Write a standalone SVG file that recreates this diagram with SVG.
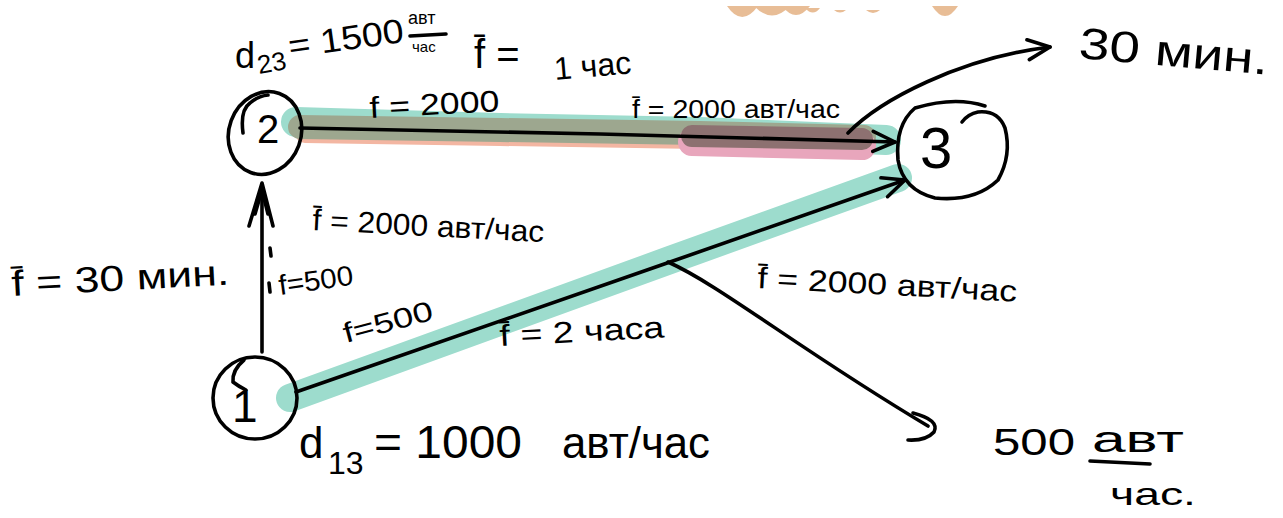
<svg xmlns="http://www.w3.org/2000/svg" width="1283" height="518" viewBox="0 0 1283 518">
<style>
.ink{fill:none;stroke:#000;stroke-width:3.6;stroke-linecap:round;stroke-linejoin:round}
.t{font-family:"Liberation Sans","Noto Sans",sans-serif;fill:#000}
.band{fill:none;stroke-linecap:round;stroke-linejoin:round}
.sc{fill:#e8bd96}
</style>
<defs>
<marker id="chev" viewBox="0 0 26 26" markerWidth="26" markerHeight="26" refX="24" refY="13" orient="auto" markerUnits="userSpaceOnUse">
<path d="M2,3 L24,13 L2,23" fill="none" stroke="#000" stroke-width="3.6" stroke-linecap="round" stroke-linejoin="round"/>
</marker>
</defs>
<rect width="1283" height="518" fill="#fff"/>

<g id="scallops">
<path class="sc" d="M727,6 Q742,28 758,6 Z"/>
<path class="sc" d="M754,6 Q772,25 790,6 Z"/>
<path class="sc" d="M782,6 Q796,24 810,6 Z"/>
<path class="sc" d="M805,8 Q813,17 820,8 Z"/>
<path class="sc" d="M834,10 Q840,15 846,10 Z"/>
<path class="sc" d="M866,10 Q873,16 880,10 Z"/>
<path class="sc" d="M932,6 Q945,26 958,6 Z"/>
</g>

<g id="highlights">
<path class="band" d="M296,122 L500,128 L700,132 L886,140" stroke="#9ddccd" stroke-width="30"/>
<path class="band" d="M305,133 L500,136 L700,139 L866,144" stroke="#f3b6a2" stroke-width="20"/>
<path class="band" d="M300,127 L500,130 L700,133 L864,137" stroke="#9da78f" stroke-width="24"/>
<path class="band" d="M692,142 L862,146" stroke="#e8a6bc" stroke-width="28"/>
<path class="band" d="M692,136 L862,139" stroke="#8d7171" stroke-width="22"/>
<path class="band" d="M290,398 L670,260 L898,178" stroke="#9ddccd" stroke-width="28"/>
</g>

<g id="connectors">
<path class="ink" d="M300,128 L600,134 L895,142" marker-end="url(#chev)"/>
<path class="ink" d="M296,392 L670,262 L905,180" marker-end="url(#chev)"/>
<path class="ink" d="M262,352 L262,186"/>
<path class="ink" d="M249,226 L262,183 L273,226 M255,214 L262,190 L268,214" stroke-width="4"/>
<path class="ink" d="M848,133 C880,100 960,58 1050,47" marker-end="url(#chev)"/>
<path class="ink" d="M668,262 C720,285 800,350 928,426"/>
<path class="ink" d="M913,413 Q940,420 934,432 Q926,441 908,440"/>
<path class="ink" d="M270,248 L271,256 M269,283 L270,292" stroke-width="2"/>
</g>

<g id="node-2">
<ellipse class="ink" cx="265" cy="133" rx="36" ry="42" transform="rotate(20 265 133)"/>
<path class="ink" d="M243,133 Q240,110 250,103 Q258,96 268,95"/>
<text class="t" x="257" y="143" font-size="40">2</text>
</g>

<g id="node-3">
<path class="ink" d="M985,106 Q955,96 915,108 Q895,125 898,160 Q903,190 935,198 Q975,202 998,180 Q1012,155 1005,128 Q998,110 978,112 Q968,114 962,122"/>
<text class="t" x="920" y="168" font-size="58">3</text>
</g>

<g id="node-1">
<ellipse class="ink" cx="255" cy="398" rx="42" ry="41"/>
<path class="ink" d="M244,360 Q232,370 233,382 Q238,386 246,390"/>
<text class="t" x="232" y="422" font-size="46">1</text>
</g>

<g id="labels">
<text class="t" x="235" y="68" font-size="36">d</text>
<text class="t" x="259" y="74" font-size="26" transform="rotate(-10 259 74)">23</text>
<text class="t" x="290" y="58" font-size="34" transform="rotate(-8 290 58)" textLength="116" lengthAdjust="spacingAndGlyphs">= 1500</text>
<text class="t" x="408" y="24" font-size="18">авт</text>
<path class="ink" d="M410,36 L446,34" stroke-width="2.5"/>
<text class="t" x="412" y="52" font-size="15">час</text>

<text class="t" x="474" y="68" font-size="40">f̄ =</text>
<text class="t" x="555" y="80" font-size="32" transform="rotate(-5 555 80)">1 час</text>

<text class="t" x="370" y="118" font-size="30" transform="rotate(-3 370 118)" textLength="130" lengthAdjust="spacingAndGlyphs">f = 2000</text>
<text class="t" x="632" y="118" font-size="26" textLength="208" lengthAdjust="spacingAndGlyphs">f̄ = 2000 авт/час</text>

<text class="t" x="1078" y="58" font-size="44" transform="rotate(5 1078 58)" textLength="190" lengthAdjust="spacingAndGlyphs">30 мин.</text>

<text class="t" x="312" y="230" font-size="30" transform="rotate(3 312 230)" textLength="232" lengthAdjust="spacingAndGlyphs">f̄ = 2000 авт/час</text>

<text class="t" x="12" y="296" font-size="36" transform="rotate(-3 12 296)" textLength="218" lengthAdjust="spacingAndGlyphs">f̄ =  30 мин.</text>

<text class="t" x="280" y="295" font-size="28" transform="rotate(-8 280 295)" textLength="75" lengthAdjust="spacingAndGlyphs">f=500</text>
<text class="t" x="346" y="343" font-size="28" transform="rotate(-15 346 343)" textLength="92" lengthAdjust="spacingAndGlyphs">f=500</text>

<text class="t" x="500" y="346" font-size="30" transform="rotate(-3 500 346)" textLength="165" lengthAdjust="spacingAndGlyphs">f̄ = 2 часа</text>

<text class="t" x="757" y="288" font-size="30" transform="rotate(3 757 288)" textLength="260" lengthAdjust="spacingAndGlyphs">f̄ = 2000 авт/час</text>

<text class="t" x="299" y="458" font-size="44">d</text>
<text class="t" x="328" y="474" font-size="32">13</text>
<text class="t" x="374" y="458" font-size="46" textLength="148" lengthAdjust="spacingAndGlyphs">= 1000</text>
<text class="t" x="562" y="458" font-size="44" textLength="148" lengthAdjust="spacingAndGlyphs">авт/час</text>

<text class="t" x="993" y="455" font-size="36" textLength="82" lengthAdjust="spacingAndGlyphs">500</text>
<text class="t" x="1092" y="452" font-size="36" textLength="92" lengthAdjust="spacingAndGlyphs">авт</text>
<path class="ink" d="M1090,461 L1150,464"/>
<text class="t" x="1110" y="505" font-size="32" textLength="86" lengthAdjust="spacingAndGlyphs">час.</text>
</g>
</svg>
